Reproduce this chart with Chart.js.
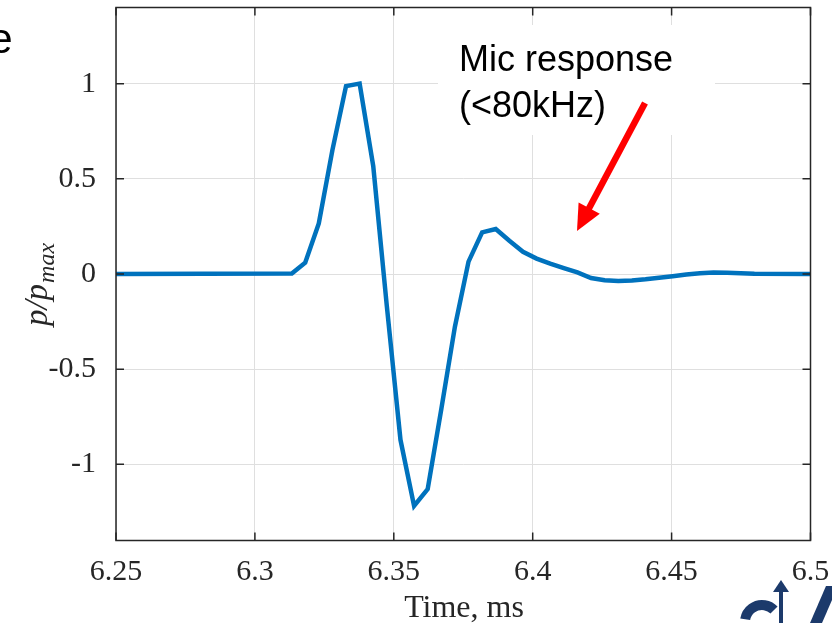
<!DOCTYPE html>
<html lang="en">
<head>
    <meta charset="UTF-8">
    <title>Mic response</title>
    <script src="https://cdn.jsdelivr.net/npm/chart.js"></script>
    <style>
        body {
            margin: 0;
            background: #fff;
        }
        #chartContainer {
            width: 832px;
            height: 623px;
        }
    </style>
</head>
<body>
    <div id="chartContainer">
        <canvas id="micChart" width="832" height="623"></canvas>
    </div>

    <script>
// time axis (ms) and normalised pressure p/pmax
const timeMs = [6.25, 6.3133, 6.3181, 6.3230, 6.3279, 6.3328, 6.3377, 6.3426, 6.3475,
    6.3524, 6.3573, 6.3622, 6.3671, 6.3720, 6.3769, 6.3818, 6.3867, 6.3916, 6.3965,
    6.4014, 6.4063, 6.4112, 6.4161, 6.4210, 6.4259, 6.4308, 6.4357, 6.4406, 6.4455,
    6.4504, 6.4553, 6.4602, 6.4651, 6.4700, 6.4749, 6.4798, 6.50];
const pNorm = [0, 0.002, 0.059, 0.266, 0.651, 0.987, 1.0, 0.567, -0.17,
    -0.871, -1.218, -1.13, -0.71, -0.277, 0.065, 0.219, 0.236, 0.175, 0.117,
    0.081, 0.055, 0.031, 0.008, -0.021, -0.033, -0.037, -0.034, -0.028, -0.020,
    -0.012, -0.003, 0.004, 0.008, 0.007, 0.004, 0.001, 0];

const xTicks = [6.25, 6.3, 6.35, 6.4, 6.45, 6.5];
const yTicks = [-1, -0.5, 0, 0.5, 1];
const noteLines = ['Mic response', '(<80kHz)'];

const axisColor = '#262626';
const serif = '"Liberation Serif", "Times New Roman", serif';

// MATLAB-style box, inward ticks, axis titles, note and arrow
const decorations = {
    id: 'decorations',
    beforeDatasetsDraw(chart) {
        const ctx = chart.ctx;
        ctx.save();
        ctx.fillStyle = '#fff';
        ctx.fillRect(438, 25, 277, 110);
        ctx.restore();
    },
    afterDatasetsDraw(chart) {
        const { ctx, chartArea: a, scales } = chart;
        ctx.save();

        ctx.strokeStyle = axisColor;
        ctx.lineWidth = 1.5;
        ctx.strokeRect(a.left, a.top, a.right - a.left, a.bottom - a.top);

        ctx.beginPath();
        xTicks.forEach(v => {
            const px = scales.x.getPixelForValue(v);
            ctx.moveTo(px, a.bottom); ctx.lineTo(px, a.bottom - 8);
            ctx.moveTo(px, a.top); ctx.lineTo(px, a.top + 8);
        });
        yTicks.forEach(v => {
            const py = scales.y.getPixelForValue(v);
            ctx.moveTo(a.left, py); ctx.lineTo(a.left + 8, py);
            ctx.moveTo(a.right, py); ctx.lineTo(a.right - 8, py);
        });
        ctx.stroke();

        // x title
        ctx.fillStyle = axisColor;
        ctx.font = '32px ' + serif;
        ctx.textAlign = 'center';
        ctx.textBaseline = 'alphabetic';
        ctx.fillText('Time, ms', 464, 617);

        // y title p/p_max
        ctx.save();
        ctx.translate(47, 285);
        ctx.rotate(-Math.PI / 2);
        ctx.font = 'italic 33px ' + serif;
        const main = 'p/p';
        const mw = ctx.measureText(main).width;
        ctx.font = 'italic 24px ' + serif;
        const sw = ctx.measureText('max').width;
        const start = -(mw + sw) / 2;
        ctx.textAlign = 'left';
        ctx.font = 'italic 33px ' + serif;
        ctx.fillText(main, start, 0);
        ctx.font = 'italic 24px ' + serif;
        ctx.fillText('max', start + mw + 1, 7);
        ctx.restore();

        // note
        ctx.fillStyle = '#000';
        ctx.font = '36px "Liberation Sans", Arial, sans-serif';
        ctx.textAlign = 'left';
        ctx.fillText(noteLines[0], 459, 71);
        ctx.fillText(noteLines[1], 459, 117);

        // red arrow
        const x0 = 645, y0 = 103, x1 = 577, y1 = 231;
        const len = Math.hypot(x1 - x0, y1 - y0);
        const ux = (x1 - x0) / len, uy = (y1 - y0) / len;
        const head = 26, half = 12;
        const bx = x1 - ux * head, by = y1 - uy * head;
        ctx.strokeStyle = '#ff0000';
        ctx.lineWidth = 6.5;
        ctx.beginPath();
        ctx.moveTo(x0, y0);
        ctx.lineTo(bx + ux * 2, by + uy * 2);
        ctx.stroke();
        ctx.fillStyle = '#ff0000';
        ctx.beginPath();
        ctx.moveTo(x1, y1);
        ctx.lineTo(bx - uy * half, by + ux * half);
        ctx.lineTo(bx + uy * half, by - ux * half);
        ctx.closePath();
        ctx.fill();

        // cropped slide text at the top left
        ctx.fillStyle = '#000';
        ctx.font = '42px "Liberation Sans", Arial, sans-serif';
        ctx.textAlign = 'right';
        ctx.fillText('e', 12.5, 53);

        // corner of the slide logo, bottom right
        ctx.fillStyle = '#1c3a6b';
        ctx.strokeStyle = '#1c3a6b';
        ctx.lineWidth = 10;
        ctx.beginPath();
        ctx.arc(762, 622, 17, Math.PI * 1.05, Math.PI * 1.75);
        ctx.stroke();
        ctx.lineWidth = 4;
        ctx.beginPath();
        ctx.moveTo(781, 623); ctx.lineTo(781, 590);
        ctx.stroke();
        ctx.beginPath();
        ctx.moveTo(781, 580); ctx.lineTo(773, 592); ctx.lineTo(789, 592);
        ctx.closePath();
        ctx.fill();
        ctx.beginPath();
        ctx.moveTo(810, 623); ctx.lineTo(826, 586); ctx.lineTo(832, 586);
        ctx.lineTo(832, 600); ctx.lineTo(822, 623);
        ctx.closePath();
        ctx.fill();

        ctx.restore();
    }
};

const points = timeMs.map((t, i) => ({ x: t, y: pNorm[i] }));

new Chart(document.getElementById('micChart'), {
    type: 'line',
    data: {
        datasets: [{
            data: points,
            borderColor: '#0072BD',
            borderWidth: 4.5,
            pointRadius: 0,
            tension: 0,
            fill: false
        }]
    },
    options: {
        responsive: false,
        animation: false,
        devicePixelRatio: 1,
        layout: { padding: { left: 0, right: 21.5, top: 7.5, bottom: 0 } },
        plugins: {
            legend: { display: false },
            tooltip: { enabled: false }
        },
        scales: {
            x: {
                type: 'linear',
                min: 6.25,
                max: 6.5,
                afterFit: s => {
                    s.height = 82.5;
                    s.paddingLeft = 0;
                    s.paddingRight = 0;
                },
                afterBuildTicks: s => { s.ticks = xTicks.map(v => ({ value: v })); },
                grid: { color: '#dfdfdf', lineWidth: 1, drawTicks: false },
                border: { display: false },
                ticks: {
                    autoSkip: false,
                    maxRotation: 0,
                    padding: 14,
                    color: axisColor,
                    font: { family: serif, size: 30 },
                    callback: v => String(v)
                }
            },
            y: {
                type: 'linear',
                min: -1.4,
                max: 1.4,
                afterFit: s => {
                    s.width = 116;
                    s.paddingTop = 0;
                    s.paddingBottom = 0;
                },
                afterBuildTicks: s => { s.ticks = yTicks.map(v => ({ value: v })); },
                grid: { color: '#dfdfdf', lineWidth: 1, drawTicks: false },
                border: { display: false },
                ticks: {
                    padding: 20,
                    color: axisColor,
                    font: { family: serif, size: 30 },
                    callback: v => String(v)
                }
            }
        }
    },
    plugins: [decorations]
});
    </script>
</body>
</html>
